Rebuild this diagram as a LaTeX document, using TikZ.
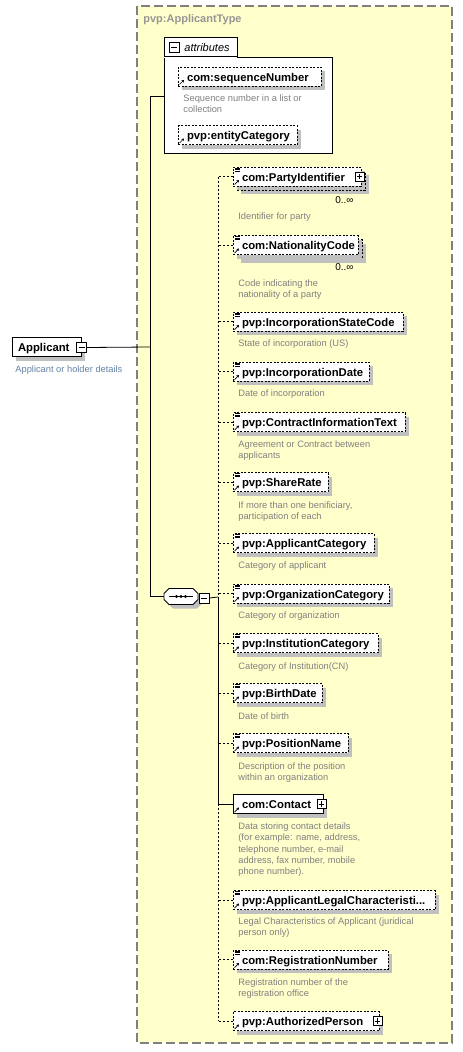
\documentclass[tikz,border=0pt]{standalone}
\usepackage{fontspec}
\setmainfont{Liberation Sans}
\usetikzlibrary{arrows.meta,shadows}
\definecolor{TypeClr}{RGB}{255,255,204}
\definecolor{FrameClr}{RGB}{128,128,128}
\definecolor{TitleClr}{RGB}{150,150,150}
\definecolor{DescClr}{RGB}{128,128,128}
\definecolor{NoteClr}{RGB}{100,130,165}
\definecolor{ShadowClr}{RGB}{192,192,192}

\begin{document}
\begin{tikzpicture}[x=1pt,y=-1pt,line width=.8pt,
  boxshadow/.style={drop shadow={shadow xshift=4pt,shadow yshift=-4pt,fill=ShadowClr,opacity=1}},
  elem/.style={draw,fill=white,boxshadow,anchor=west,outer sep=0pt,inner sep=0pt,
    minimum height=19pt,text width=#1,align=left,text height=10.5pt,text depth=1.5pt,
    font=\fontsize{11.3}{13}\selectfont\bfseries},
  opt/.style={elem=#1,dash pattern=on 2pt off 1.5pt},
  refarr/.style={path picture={
    \draw[solid,line width=.7pt,-{Stealth[length=2.5pt,width=3pt]}]
      ([xshift=1.5pt,yshift=1.5pt]path picture bounding box.south west) -- ++(4.5pt,4.5pt);}},
  reflines/.style={path picture={
    \draw[solid,line width=.7pt,-{Stealth[length=2.5pt,width=3pt]}]
      ([xshift=1.5pt,yshift=1.5pt]path picture bounding box.south west) -- ++(4.5pt,4.5pt);
    \draw[solid,line width=.6pt]
      ([xshift=2pt,yshift=-1pt]path picture bounding box.north west) -- ++(5pt,0pt)
      ([xshift=2pt,yshift=-2.5pt]path picture bounding box.north west) -- ++(5pt,0pt)
      ([xshift=2pt,yshift=-4pt]path picture bounding box.north west) -- ++(5pt,0pt);}},
  plusbox/.style={draw,solid,fill=white,minimum size=9pt,inner sep=0pt,path picture={
    \draw ([yshift=-1.8pt]path picture bounding box.north) -- ([yshift=1.8pt]path picture bounding box.south)
      ([xshift=1.8pt]path picture bounding box.west) -- ([xshift=-1.8pt]path picture bounding box.east);}},
  minusbox/.style={draw,fill=white,minimum size=10pt,inner sep=0pt,path picture={
    \draw ([xshift=2pt]path picture bounding box.west) -- ([xshift=-2pt]path picture bounding box.east);}},
  seqbox/.style={minimum width=34pt,minimum height=16pt,inner sep=0pt,outer sep=0pt},
  desc/.style={anchor=base west,inner sep=0pt,align=left,text=DescClr,font=\fontsize{9.3}{11.3}\selectfont},
  mult/.style={anchor=base east,inner sep=0pt,font=\fontsize{10}{12}\selectfont},
  optline/.style={dash pattern=on 2pt off 2pt}]
\useasboundingbox (0,0) rectangle (463,1052);

% type frame
\draw[FrameClr,line width=1.2pt,dash pattern=on 9pt off 4pt,fill=TypeClr] (137,6) rectangle (452,1043);
\node[anchor=base west,inner sep=0pt,text=TitleClr,font=\fontsize{11}{13}\selectfont\bfseries] (title) at (143,23) {pvp:ApplicantType};

% element
\node[elem=69pt] (app) at (12,347) {\hspace*{6pt}Applicant};
\node[minusbox] (appminus) at (81.5,347.5) {};
\node[desc,text=NoteClr] (appdesc) at (15,372.5) {Applicant or holder details};

% attributes
\node[draw,fill=white,anchor=north west,minimum width=168pt,minimum height=96pt,inner sep=0pt] (attr) at (164,57) {};
\node[draw,fill=white,anchor=south west,minimum width=73pt,minimum height=19pt,inner sep=0pt] (attrtab) at (attr.north west) {};
\draw[white] ([xshift=.4pt]attr.north west) -- ([xshift=-.4pt]attrtab.south east);
\node[minusbox] (attrminus) at (174,47) {};
\node[anchor=base west,inner sep=0pt,font=\fontsize{11}{13}\selectfont\itshape] (attrtext) at (184,51.5) {attributes};
\node[opt=143pt,refarr] (seqnum) at (178,76.5) {\hspace*{9pt}com:sequenceNumber};
\node[desc] (seqnumdesc) at (183,112.8) {Sequence number in a list or\\collection};
\node[opt=119pt,refarr] (entcat) at (178,135) {\hspace*{9pt}pvp:entityCategory};

% sequence
\node[seqbox] (seq) at (181,596.5) {};
\draw[fill=white,boxshadow] ([xshift=5pt]seq.north west) -- ([xshift=-5pt]seq.north east)
  -- ([yshift=-5pt]seq.north east) -- ([yshift=5pt]seq.south east) -- ([xshift=-5pt]seq.south east)
  -- ([xshift=5pt]seq.south west) -- ([yshift=5pt]seq.south west) -- ([yshift=-5pt]seq.north west) -- cycle;
\draw ([xshift=5pt]seq.west) -- ([xshift=-5pt]seq.east);
\fill (seq.center) circle (1.7pt) ([xshift=-4.5pt]seq.center) circle (1.7pt)
  ([xshift=4.5pt]seq.center) circle (1.7pt);
\node[minusbox] (seqminus) at (204,598) {};

% children
\node[opt=128pt] (partyback) at (237,180.5) {};
\node[opt=128pt,reflines] (party) at (233,176.5) {\hspace*{9pt}com:PartyIdentifier};
\node[plusbox] (partyplus) at ([xshift=-1.5pt]party.east) {};
\node[mult] (partymult) at (354,203) {0..∞};
\node[desc] (partydesc) at (238,219.5) {Identifier for party};

\node[opt=125pt] (nationback) at (237,249) {};
\node[opt=125pt,reflines] (nation) at (233,245) {\hspace*{9pt}com:NationalityCode};
\node[mult] (nationmult) at (354,270) {0..∞};
\node[desc] (nationdesc) at (238,297.8) {Code indicating the\\nationality of a party};

\node[opt=170pt,reflines] (incstate) at (233,321.5) {\hspace*{9pt}pvp:IncorporationStateCode};
\node[desc] (incstatedesc) at (238,346.5) {State of incorporation (US)};

\node[opt=136pt,reflines] (incdate) at (233,371.5) {\hspace*{9pt}pvp:IncorporationDate};
\node[desc] (incdatedesc) at (238,396.5) {Date of incorporation};

\node[opt=172pt,reflines] (contract) at (233,422) {\hspace*{9pt}pvp:ContractInformationText};
\node[desc] (contractdesc) at (238,458.8) {Agreement or Contract between\\applicants};

\node[opt=95pt,reflines] (share) at (233,482) {\hspace*{9pt}pvp:ShareRate};
\node[desc] (sharedesc) at (238,519.8) {If more than one benificiary,\\participation of each};

\node[opt=141pt,reflines] (appcat) at (233,543) {\hspace*{9pt}pvp:ApplicantCategory};
\node[desc] (appcatdesc) at (238,568.5) {Category of applicant};

\node[opt=156pt,reflines] (orgcat) at (233,593.5) {\hspace*{9pt}pvp:OrganizationCategory};
\node[desc] (orgcatdesc) at (238,618.5) {Category of organization};

\node[opt=145pt,reflines] (instcat) at (233,643) {\hspace*{9pt}pvp:InstitutionCategory};
\node[desc] (instcatdesc) at (238,669.5) {Category of Institution(CN)};

\node[opt=89pt,reflines] (birth) at (233,693) {\hspace*{9pt}pvp:BirthDate};
\node[desc] (birthdesc) at (238,719.5) {Date of birth};

\node[opt=115pt,reflines] (posname) at (233,743) {\hspace*{9pt}pvp:PositionName};
\node[desc] (posnamedesc) at (238,780.8) {Description of the position\\within an organization};

\node[elem=90pt,refarr] (contact) at (233,804) {\hspace*{9pt}com:Contact};
\node[plusbox] (contactplus) at ([xshift=-1.5pt]contact.east) {};
\node[desc] (contactdesc) at (238,874.7) {Data storing contact details\\(for example: name, address,\\telephone number, e-mail\\address, fax number, mobile\\phone number).};

\node[opt=202pt,reflines] (legal) at (233,900) {\hspace*{9pt}pvp:ApplicantLegalCharacteristi...};
\node[desc] (legaldesc) at (238,935.8) {Legal Characteristics of Applicant (juridical\\person only)};

\node[opt=155pt,reflines] (regnum) at (233,959.5) {\hspace*{9pt}com:RegistrationNumber};
\node[desc] (regnumdesc) at (238,996.8) {Registration number of the\\registration office};

\node[opt=146pt,refarr] (authp) at (233,1021) {\hspace*{9pt}pvp:AuthorizedPerson};
\node[plusbox] (authpplus) at ([xshift=-1.5pt]authp.east) {};

% connectors
\coordinate (fork) at (150,347);
\coordinate (attrin) at (164,96.5);
\coordinate (bus) at (218,597);
\draw (appminus.east) -- (fork);
\draw (attrin) -- (attrin -| fork) -- (fork |- seq.west) -- (seq.west);
\draw (seqminus.east) -- (bus);
\draw[optline] (party.west -| bus) -- (bus);
\draw (bus) -- (contact.west -| bus) -- (contact.west);
\draw[optline] (contact.west -| bus) -- (authp.west -| bus);
\draw[optline] (party.west) -- (party.west -| bus) (nation.west) -- (nation.west -| bus)
  (incstate.west) -- (incstate.west -| bus) (incdate.west) -- (incdate.west -| bus)
  (contract.west) -- (contract.west -| bus) (share.west) -- (share.west -| bus)
  (appcat.west) -- (appcat.west -| bus) (orgcat.west) -- (orgcat.west -| bus)
  (instcat.west) -- (instcat.west -| bus) (birth.west) -- (birth.west -| bus)
  (posname.west) -- (posname.west -| bus) (legal.west) -- (legal.west -| bus)
  (regnum.west) -- (regnum.west -| bus) (authp.west) -- (authp.west -| bus);

\end{tikzpicture}
\end{document}
